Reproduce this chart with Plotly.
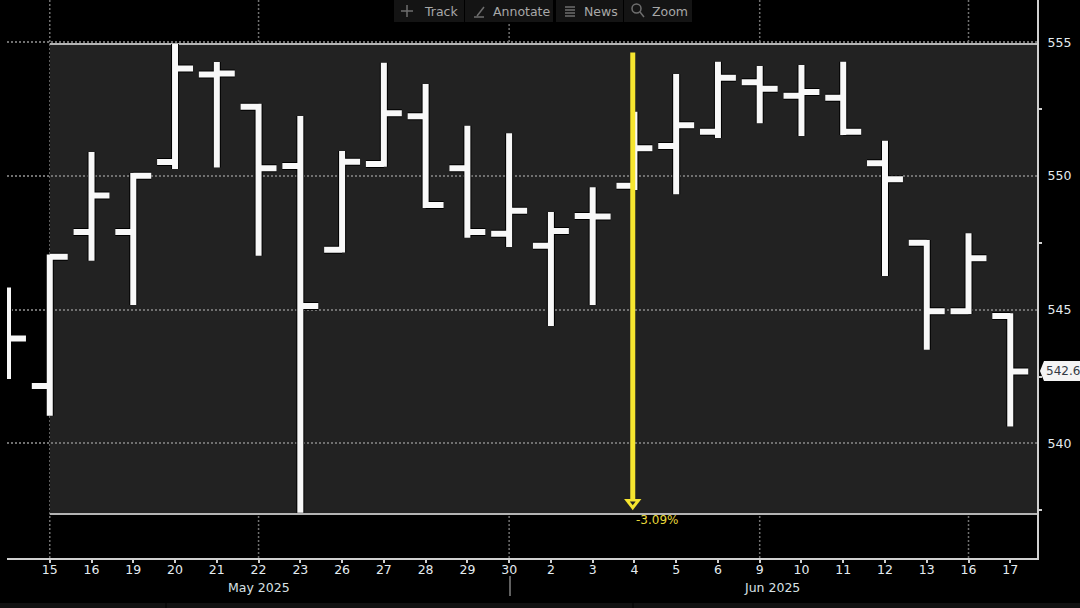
import plotly.graph_objects as go

WIDTH, HEIGHT = 1080, 608
days = ["14", "15", "16", "19", "20", "21", "22", "23", "26", "27", "28", "29", "30",
        "2", "3", "4", "5", "6", "9", "10", "11", "12", "13", "16", "17"]
opens = [544.25, 542.15, 547.91, 547.91, 550.53, 553.80, 552.60, 550.38, 547.24, 550.45, 552.24, 550.29, 547.84,
         547.39, 548.51, 549.64, 551.13, 551.66, 553.51, 553.01, 552.93, 550.48, 547.51, 544.94, 544.77]
highs = [545.83, 547.07, 550.90, 550.12, 554.94, 554.27, 552.71, 552.25, 550.94, 554.24, 553.45, 551.88, 551.60,
         548.66, 549.58, 552.41, 553.82, 554.28, 554.12, 554.16, 554.28, 551.32, 547.61, 547.86, 544.87]
lows = [542.41, 541.03, 546.83, 545.18, 550.27, 550.32, 547.02, 537.40, 547.14, 550.35, 548.81, 547.69, 547.35,
        544.39, 545.18, 549.48, 549.32, 551.43, 551.98, 551.50, 551.54, 546.26, 543.50, 544.84, 540.63]
closes = [543.92, 546.98, 549.27, 550.01, 554.03, 553.84, 550.29, 545.14, 550.54, 552.35, 548.92, 547.91, 548.70,
          547.95, 548.49, 551.04, 551.90, 553.68, 553.27, 553.15, 551.66, 549.88, 544.94, 546.93, 542.69]
y_ticks = [540, 545, 550, 555]
grid_days = [1, 6, 12, 18, 23]
range_high, range_low = 554.94, 537.36
range_start = 1
arrow_x = 14.96
arrow_top, arrow_head = 554.63, 537.78
arrow_label = "-3.09%"
last_label = "542.6"
months = [("May 2025", 259), ("Jun 2025", 772)]
tools = [("Track", 394, 464, 440.5), ("Annotate", 465, 553, 521.5), ("News", 556, 623, 601), ("Zoom", 624, 692, 670)]

FONT = "DejaVu Sans"
PW, PH = 1030, 558
L = 7
def px(x): return (x - L) / PW
def py(y): return 1 - y / PH

x = list(range(len(days)))
fig = go.Figure()
for color, w in (("#000000", 8), ("#f8f8f8", 6)):
    fig.add_trace(go.Ohlc(x=x, open=opens, high=highs, low=lows, close=closes, tickwidth=0.43,
                          increasing=dict(line=dict(color=color, width=w)),
                          decreasing=dict(line=dict(color=color, width=w)),
                          hoverinfo="skip", showlegend=False))
fig.add_trace(go.Scatter(x=[arrow_x, arrow_x], y=[arrow_top, arrow_head], mode="lines",
                         line=dict(color="#f6e52f", width=5), hoverinfo="skip", showlegend=False))
fig.add_trace(go.Scatter(x=[arrow_x], y=[arrow_head], mode="markers",
                         marker=dict(symbol="triangle-down", size=15, color="#f6e52f"),
                         hoverinfo="skip", showlegend=False))
fig.add_trace(go.Scatter(x=[arrow_x], y=[arrow_head], mode="markers",
                         marker=dict(symbol="triangle-down", size=5, color="#222222"),
                         hoverinfo="skip", showlegend=False))
fig.add_trace(go.Scatter(x=[24.735] * len(y_ticks), y=y_ticks, mode="markers", cliponaxis=False,
                         marker=dict(symbol="triangle-right", size=7, color="#f0f0f0"),
                         hoverinfo="skip", showlegend=False))

shapes = [
    dict(type="rect", xref="x", yref="y", x0=range_start, x1=24.64, y0=range_low, y1=range_high,
         fillcolor="#222222", line_width=0, layer="below"),
    dict(type="line", xref="x", yref="y", x0=range_start, x1=24.64, y0=range_high, y1=range_high,
         line=dict(color="#b4b4b4", width=2), layer="between"),
    dict(type="line", xref="x", yref="y", x0=range_start, x1=24.64, y0=range_low, y1=range_low,
         line=dict(color="#b4b4b4", width=2), layer="between"),
]
for d in grid_days:
    shapes.append(dict(type="line", xref="x", yref="paper", x0=d, x1=d, y0=0, y1=1,
                       line=dict(color="#707070", width=1.5, dash="2px,2px"), layer="between"))
# window chrome
shapes.append(dict(type="rect", xref="paper", yref="paper", x0=px(0), x1=px(1080), y0=py(603), y1=py(608),
                   fillcolor="#111111", line_width=0, layer="below"))
for sx in (166, 633):
    shapes.append(dict(type="line", xref="paper", yref="paper", x0=px(sx), x1=px(sx), y0=py(603), y1=py(608),
                       line=dict(color="#000000", width=1)))
shapes.append(dict(type="line", xref="paper", yref="paper", x0=px(510), x1=px(510), y0=py(576), y1=py(596),
                   line=dict(color="#808080", width=1.5)))
# last-price tag
tag_top, tag_bot = py(361), py(381)
shapes.append(dict(type="path", xref="paper", yref="paper",
                   path=f"M {px(1040)},{py(371)} L {px(1044)},{tag_top} L {px(1082)},{tag_top} "
                        f"L {px(1082)},{tag_bot} L {px(1044)},{tag_bot} Z",
                   fillcolor="#f4f4f4", line_width=0))

annotations = [
    dict(text=arrow_label, xref="x", yref="paper", x=arrow_x + 0.03, y=py(520), xanchor="left", yanchor="middle",
         showarrow=False, font=dict(family=FONT, size=12, color="#e8d83a")),
    dict(text=last_label, xref="paper", yref="paper", x=px(1044), y=py(371), xanchor="left", yanchor="middle",
         showarrow=False, font=dict(family=FONT, size=12, color="#333a44")),
]
for text, cx in months:
    annotations.append(dict(text=text, xref="paper", yref="paper", x=px(cx), y=py(587), xanchor="center",
                            yanchor="middle", showarrow=False, font=dict(family=FONT, size=12.5, color="#d8e0e4")))
for text, x0, x1, cx in tools:
    shapes.append(dict(type="rect", xref="paper", yref="paper", x0=px(x0), x1=px(x1), y0=py(0), y1=py(22),
                       fillcolor="#141414", line_width=0))
    annotations.append(dict(text=text, xref="paper", yref="paper", x=px(cx), y=py(11), xanchor="center",
                            yanchor="middle", showarrow=False, font=dict(family=FONT, size=12.5, color="#a8a8a8")))
# toolbar icons
ic = "#6e6e6e"
for seg in [(401, 11, 413, 11), (407, 5, 407, 17), (477, 16, 484, 7), (474, 17, 484, 17),
            (565, 7, 575, 7), (565, 10, 575, 10), (565, 13, 575, 13), (565, 16, 575, 16), (640, 12, 644, 17)]:
    shapes.append(dict(type="line", xref="paper", yref="paper", x0=px(seg[0]), y0=py(seg[1]),
                       x1=px(seg[2]), y1=py(seg[3]), line=dict(color=ic, width=1.5)))
shapes.append(dict(type="circle", xref="paper", yref="paper", x0=px(632), x1=px(641), y0=py(4), y1=py(13),
                   line=dict(color=ic, width=1.5)))

fig.update_layout(
    width=WIDTH, height=HEIGHT, margin=dict(l=L, r=WIDTH - L - PW, t=0, b=HEIGHT - PH),
    paper_bgcolor="#000000", plot_bgcolor="#000000", showlegend=False, hovermode=False,
    shapes=shapes, annotations=annotations,
    xaxis=dict(type="linear", range=[-0.024, 24.64], rangeslider=dict(visible=False), tickmode="array",
               tickvals=x[1:], ticktext=days[1:], showgrid=False, zeroline=False, showline=True, linewidth=2,
               linecolor="#d0d0d0", ticks="outside", ticklen=3, tickcolor="#d0d0d0", tickwidth=1.5,
               ticklabelstandoff=-4, tickfont=dict(family=FONT, size=12.5, color="#e4ecf0")),
    yaxis=dict(side="right", range=[535.71, 556.59], tickmode="array", tickvals=y_ticks, showgrid=True,
               griddash="2px,2px", gridcolor="#707070", gridwidth=1.5, zeroline=False, showline=True, linewidth=2,
               linecolor="#d0d0d0", ticks="outside", ticklen=6, tickcolor="#000000",
               tickfont=dict(family=FONT, size=12.5, color="#e4ecf0"),
               minor=dict(tickmode="array", tickvals=[537.5, 542.5, 547.5, 552.5], ticks="outside", ticklen=3,
                          tickcolor="#d0d0d0", tickwidth=1.5, showgrid=False)),
)
fig.write_html("out.html", config={"displayModeBar": False},
               post_script="document.body.style.margin='0';document.body.style.background='#000';document.body.style.overflow='hidden';")
